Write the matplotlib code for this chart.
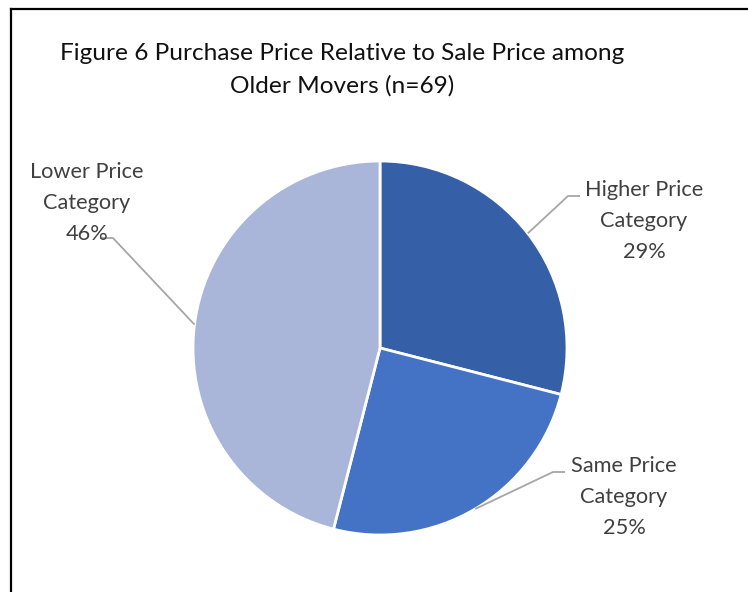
import numpy as np
import matplotlib
matplotlib.use('Agg')
import matplotlib.pyplot as plt
from matplotlib.lines import Line2D

plt.rcParams['font.family'] = ['Lato', 'DejaVu Sans']

# data
categories = ['Higher Price\nCategory', 'Same Price\nCategory', 'Lower Price\nCategory']
shares = [29, 25, 46]
colors = ['#355FA6', '#4472C4', '#A9B6DA']

W, H = 748, 592
fig = plt.figure(figsize=(W / 100, H / 100), dpi=100)
ax = fig.add_axes([0, 0, 1, 1])

cx, cy, r = 380, H - 348, 187
wedges, _ = ax.pie(shares, colors=colors, startangle=90, counterclock=False,
                   center=(cx, cy), radius=r, frame=True,
                   wedgeprops=dict(edgecolor='white', linewidth=2))
ax.set_xlim(0, W)
ax.set_ylim(0, H)
ax.set_aspect('equal')
ax.axis('off')

# label placement (pixel coords from top) and leader elbows
label_pos = [(644, 221), (624, 497), (87, 203)]
elbows = [((580, 196), (568, 196)), ((565, 472), (553, 472)), ((100, 238), (113, 238))]

for w, cat, pct, (lx, ly), (e0, e1) in zip(wedges, categories, shares, label_pos, elbows):
    mid = np.deg2rad((w.theta1 + w.theta2) / 2)
    ax_x = cx + r * np.cos(mid)
    ax_y = cy + r * np.sin(mid)
    ax.plot([e0[0], e1[0], ax_x], [H - e0[1], H - e1[1], ax_y],
            color='#A6A6A6', lw=1.3, solid_capstyle='butt')
    ax.text(lx, H - ly, f'{cat}\n{pct}%', ha='center', va='center',
            fontsize=15.7, color='#404040', linespacing=1.66)

fig.text(342 / W, 1 - 54 / H, 'Figure 6 Purchase Price Relative to Sale Price among',
         ha='center', va='center', fontsize=17.6, color='#111111')
fig.text(342 / W, 1 - 86 / H, 'Older Movers (n=69)',
         ha='center', va='center', fontsize=17.6, color='#111111')

# chart frame (left and top edges visible)
fig.add_artist(Line2D([10.5 / W, 10.5 / W], [0, 1 - 8.5 / H], color='black', lw=1.6,
                      transform=fig.transFigure))
fig.add_artist(Line2D([10.5 / W, 1], [1 - 8.5 / H, 1 - 8.5 / H], color='black', lw=1.6,
                      transform=fig.transFigure))

fig.savefig('out.png', dpi=100)
